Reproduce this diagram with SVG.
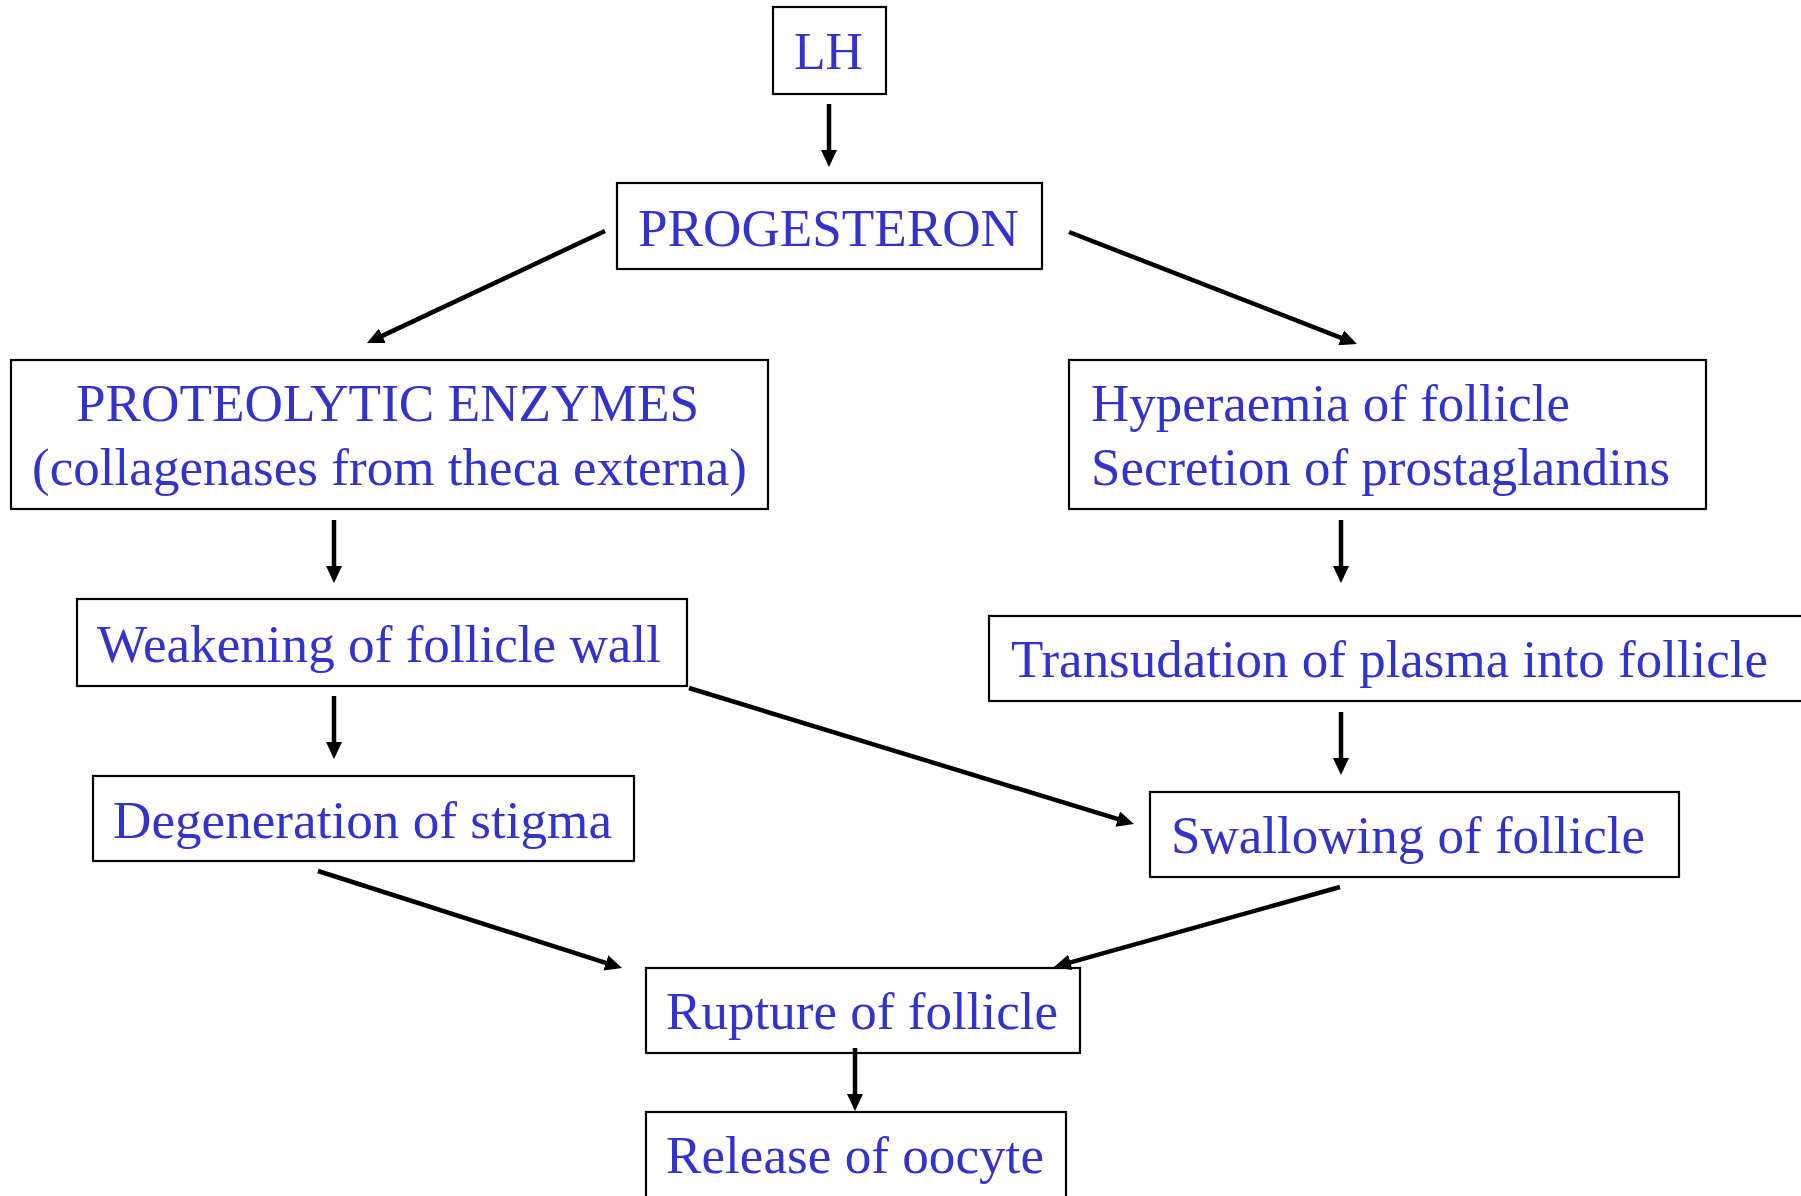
<svg xmlns="http://www.w3.org/2000/svg" width="1801" height="1196" viewBox="0 0 1801 1196">
<style>
.box{fill:#fff;stroke:#000;stroke-width:2.2}
.t{font-family:"Liberation Serif","Times New Roman",serif;font-size:53px;fill:#3333cc}
.c{stroke:#000;stroke-width:4.5;fill:none;marker-end:url(#ah)}
</style>
<defs>
<marker id="ah" markerUnits="userSpaceOnUse" markerWidth="17" markerHeight="16" refX="9" refY="8" orient="auto">
<path d="M0,0 L17,8 L0,16 z" fill="#000"/>
</marker>
</defs>
<rect width="1801" height="1196" fill="#fff"/>
<g id="n-lh"><rect class="box" x="773" y="7" width="113" height="87"/><text class="t" x="794" y="69" textLength="69" lengthAdjust="spacingAndGlyphs">LH</text></g>
<g id="n-progesteron"><rect class="box" x="617" y="183" width="425" height="86"/><text class="t" x="638" y="246" textLength="381" lengthAdjust="spacingAndGlyphs">PROGESTERON</text></g>
<g id="n-proteolytic"><rect class="box" x="11" y="360" width="757" height="149"/><text class="t" x="76" y="421" textLength="623" lengthAdjust="spacingAndGlyphs">PROTEOLYTIC ENZYMES</text><text class="t" x="32" y="485" textLength="715" lengthAdjust="spacingAndGlyphs">(collagenases from theca externa)</text></g>
<g id="n-hyperaemia"><rect class="box" x="1069" y="360" width="637" height="149"/><text class="t" x="1091" y="421" textLength="479" lengthAdjust="spacingAndGlyphs">Hyperaemia of follicle</text><text class="t" x="1091" y="485" textLength="579" lengthAdjust="spacingAndGlyphs">Secretion of prostaglandins</text></g>
<g id="n-weakening"><rect class="box" x="77" y="599" width="610" height="87"/><text class="t" x="97" y="662" textLength="564" lengthAdjust="spacingAndGlyphs">Weakening of follicle wall</text></g>
<g id="n-transudation"><rect class="box" x="989" y="616" width="830" height="85"/><text class="t" x="1011" y="677" textLength="757" lengthAdjust="spacingAndGlyphs">Transudation of plasma into follicle</text></g>
<g id="n-degeneration"><rect class="box" x="93" y="776" width="541" height="85"/><text class="t" x="113" y="838" textLength="499" lengthAdjust="spacingAndGlyphs">Degeneration of stigma</text></g>
<g id="n-swallowing"><rect class="box" x="1150" y="792" width="529" height="85"/><text class="t" x="1171" y="853" textLength="474" lengthAdjust="spacingAndGlyphs">Swallowing of follicle</text></g>
<g id="n-rupture"><rect class="box" x="646" y="968" width="434" height="85"/><text class="t" x="666" y="1029" textLength="392" lengthAdjust="spacingAndGlyphs">Rupture of follicle</text></g>
<g id="n-release"><rect class="box" x="646" y="1112" width="420" height="110"/><text class="t" x="666" y="1173" textLength="378" lengthAdjust="spacingAndGlyphs">Release of oocyte</text></g>
<g id="connectors">
<line class="c" x1="829" y1="104" x2="829" y2="159"/>
<line class="c" x1="605" y1="231" x2="374.2" y2="339.6"/>
<line class="c" x1="1069" y1="232" x2="1349.5" y2="341.1"/>
<line class="c" x1="334" y1="520" x2="334" y2="575"/>
<line class="c" x1="1341" y1="520" x2="1341" y2="575"/>
<line class="c" x1="334" y1="696" x2="334" y2="751"/>
<line class="c" x1="1341" y1="712" x2="1341" y2="767"/>
<line class="c" x1="689" y1="688" x2="1126.3" y2="821.7"/>
<line class="c" x1="318" y1="871" x2="614.4" y2="965.6"/>
<line class="c" x1="1340" y1="887" x2="1061.7" y2="964.8"/>
<line class="c" x1="855" y1="1048" x2="855" y2="1103"/>
</g>
</svg>
